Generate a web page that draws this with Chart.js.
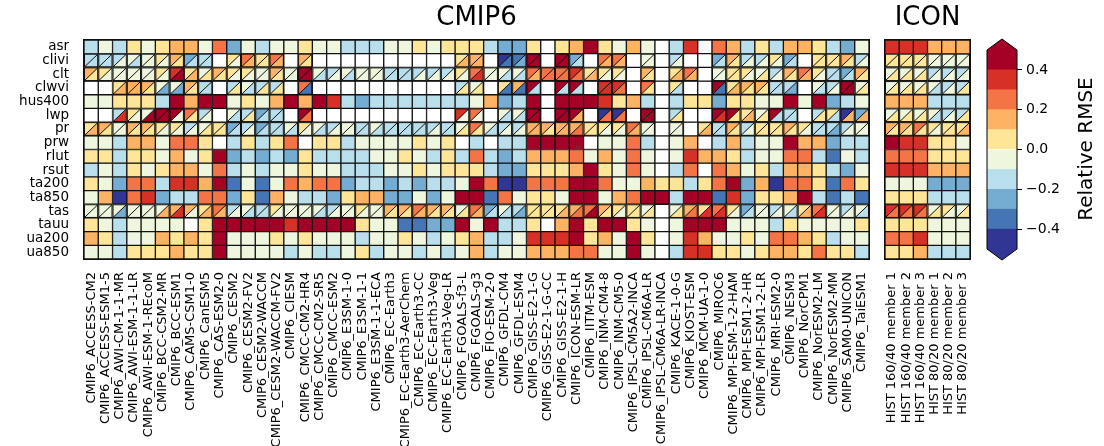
<!DOCTYPE html>
<html>
<head>
<meta charset="utf-8">
<script src="https://cdn.jsdelivr.net/npm/chart.js@4.4.1/dist/chart.umd.min.js"></script>
<style>
  html, body { margin: 0; padding: 0; background: #fff; }
  #wrap { position: relative; width: 1104px; height: 446px; overflow: hidden; }
  canvas { position: absolute; top: 0; }
</style>
</head>
<body>
<div id="wrap">
  <canvas id="cmip" width="877" height="446" style="left:0px"></canvas>
  <canvas id="icon" width="103" height="446" style="left:877px"></canvas>
  <canvas id="cbar" width="124" height="446" style="left:980px"></canvas>
</div>
<script>
// ---- labels ----
const rowNames = ["asr", "clivi", "clt", "clwvi", "hus400", "lwp", "pr", "prw",
  "rlut", "rsut", "ta200", "ta850", "tas", "tauu", "ua200", "ua850"];

const cmipModels = [
  "CMIP6_ACCESS-CM2", "CMIP6_ACCESS-ESM1-5", "CMIP6_AWI-CM-1-1-MR", "CMIP6_AWI-ESM-1-1-LR",
  "CMIP6_AWI-ESM-1-REcoM", "CMIP6_BCC-CSM2-MR", "CMIP6_BCC-ESM1", "CMIP6_CAMS-CSM1-0",
  "CMIP6_CanESM5", "CMIP6_CAS-ESM2-0", "CMIP6_CESM2", "CMIP6_CESM2-FV2", "CMIP6_CESM2-WACCM",
  "CMIP6_CESM2-WACCM-FV2", "CMIP6_CIESM", "CMIP6_CMCC-CM2-HR4", "CMIP6_CMCC-CM2-SR5",
  "CMIP6_CMCC-ESM2", "CMIP6_E3SM-1-0", "CMIP6_E3SM-1-1", "CMIP6_E3SM-1-1-ECA", "CMIP6_EC-Earth3",
  "CMIP6_EC-Earth3-AerChem", "CMIP6_EC-Earth3-CC", "CMIP6_EC-Earth3-Veg", "CMIP6_EC-Earth3-Veg-LR",
  "CMIP6_FGOALS-f3-L", "CMIP6_FGOALS-g3", "CMIP6_FIO-ESM-2-0", "CMIP6_GFDL-CM4", "CMIP6_GFDL-ESM4",
  "CMIP6_GISS-E2-1-G", "CMIP6_GISS-E2-1-G-CC", "CMIP6_GISS-E2-1-H", "CMIP6_ICON-ESM-LR",
  "CMIP6_IITM-ESM", "CMIP6_INM-CM4-8", "CMIP6_INM-CM5-0", "CMIP6_IPSL-CM5A2-INCA",
  "CMIP6_IPSL-CM6A-LR", "CMIP6_IPSL-CM6A-LR-INCA", "CMIP6_KACE-1-0-G", "CMIP6_KIOST-ESM",
  "CMIP6_MCM-UA-1-0", "CMIP6_MIROC6", "CMIP6_MPI-ESM-1-2-HAM", "CMIP6_MPI-ESM1-2-HR",
  "CMIP6_MPI-ESM1-2-LR", "CMIP6_MRI-ESM2-0", "CMIP6_NESM3", "CMIP6_NorCPM1", "CMIP6_NorESM2-LM",
  "CMIP6_NorESM2-MM", "CMIP6_SAM0-UNICON", "CMIP6_TaiESM1"];

const iconRuns = ["HIST 160/40 member 1", "HIST 160/40 member 2", "HIST 160/40 member 3",
  "HIST 80/20 member 1", "HIST 80/20 member 2", "HIST 80/20 member 3"];

// ---- CMIP6 relative RMSE (null = no data); *Alt = second reference (lower-right triangle) ----
const asr = [-.15,-.05,-.15,.05,-.05,.05,.15,.15,-.05,.25, -.25,-.05,-.15,-.05,-.05,.05,-.05,-.05,-.15,-.15,-.15,-.05,-.05,.05,-.05, .05,.05,.05,-.15,-.25,-.25,.05,null,.05,.15,.45,.05,-.05,.15,-.05,null, -.15,.35,null,.25,.15,-.15,.05,-.15,.15,.15,.05,-.15,-.25,-.05];
const clivi = [-.15,-.15,-.15,-.05,-.05,.05,.15,-.25,-.15,null,.05,.25,.05,.25, null,.15,null,null,null,null,null,null,null,null,null, null,.05,.15,null,-.45,-.35,.45,null,.45,-.25,null,.25,.25,null,-.05,null, -.15,null,null,-.25,.15,-.15,-.15,.05,-.25,null,.05,.05,.15,-.15];
const cliviAlt = [-.15,-.15,-.05,-.15,-.05,-.05,.05,-.15,-.15,null,-.05,.15,.05,.15, null,.05,null,null,null,null,null,null,null,null,null, null,.15,.15,null,-.35,-.25,.45,null,.45,-.15,null,.15,.15,null,-.05,null, -.05,null,null,-.15,.05,-.05,-.05,-.05,-.15,null,.05,.05,.05,-.05];
const clt = [.15,.05,-.05,-.05,-.05,.05,.35,.05,-.05,.15,.05,.05,-.05,.15,-.05,.45,-.05,-.15,-.05,-.05,-.05,-.15,-.15,-.15,-.15, -.15,.05,.25,-.05,-.05,-.05,.25,.25,.25,.35,.05,.05,.05,null,.15,null, .05,.25,null,-.05,.05,.05,-.05,-.15,.15,.25,.05,-.15,-.25,.15];
const cltAlt = [.05,-.05,-.05,-.05,-.05,-.05,.45,.15,.05,.05,-.05,-.05,-.05,.05,-.05,.45,-.15,-.05,-.15,-.05,-.05,-.15,-.15,-.05,-.05, -.05,-.05,.35,-.05,-.15,-.15,.15,.25,.25,.25,.15,-.05,-.05,null,.05,null, .15,.15,null,-.05,.05,-.05,.05,-.05,.05,.15,-.05,-.15,-.15,.05];
const clwvi = [null,null,.05,.15,.15,-.05,-.05,.15,-.15,null,-.15,-.05,-.15,-.15,null,.25, null,null,null,null,null,null,null,null,null, null,-.15,-.05,null,.05,.15,.45,null,.45,.45,null,.35,.35,null,.25,null, .05,null,null,.45,.05,.15,.15,-.15,-.15,null,-.05,-.15,.45,-.05];
const clwviAlt = [null,null,.15,.15,.05,-.25,-.25,.05,-.15,null,.05,-.15,.05,.05,null,-.35, null,null,null,null,null,null,null,null,null, null,.05,.05,null,-.35,-.35,-.15,null,-.15,-.15,null,.35,.25,null,.05,null, -.15,null,null,-.35,.15,.05,.05,-.15,-.25,null,-.15,-.05,.45,.05];
const hus400 = [-.05,-.05,.05,.05,.05,-.15,.45,.15,.45,.45, -.05,.05,-.05,.15,.45,.15,.45,.35,-.15,-.25,-.15,-.15,-.15,-.15,-.15, -.15,-.15,-.05,.15,-.25,-.15,.45,null,.45,.45,.45,.35,.05,.15,-.15,null, -.15,.05,.05,-.25,.05,.05,-.05,-.05,.45,-.05,.45,-.25,-.15,-.05];
const lwp = [null,null,-.15,.05,-.05,.45,.45,.25,-.15,null,-.05,-.15,-.25,-.15,null,.45, null,null,null,null,null,null,null,null,null, null,.35,.25,null,-.05,-.05,.45,null,.45,.45,null,-.45,-.45,null,.45,null, -.15,null,null,.45,.45,.05,-.05,.45,-.15,null,-.15,.05,-.45,-.25];
const lwpAlt = [null,null,.35,-.05,.45,.45,-.05,.05,-.05,null,-.15,.05,-.15,-.15,null,.25, null,null,null,null,null,null,null,null,null, null,-.05,-.05,null,-.15,-.15,.45,null,.45,.15,null,.25,.25,null,.45,null, .05,null,null,.35,.05,.15,.05,-.15,-.15,null,.05,-.15,.15,.15];
const pr = [.05,.15,-.05,.15,.15,.05,.05,-.15,-.05,.05,-.25,-.15,-.25,-.15,-.05,.05,-.05,-.15,-.05,-.15,-.05,-.15,-.15,-.15,-.15, -.15,-.05,.25,-.05,-.15,-.15,.15,.15,.15,.15,.05,.05,.05,.25,-.05,null, -.05,null,.05,-.15,.15,-.15,.05,.05,.15,.05,-.15,-.15,-.15,-.05];
const prAlt = [.15,.05,-.05,.05,.05,-.05,-.05,-.05,.05,.05,-.15,-.05,-.15,-.15,-.15,-.05,-.15,-.05,-.05,-.15,-.15,-.15,-.15,-.15,-.05, -.15,.05,.05,-.15,-.05,-.05,.15,.05,.15,.25,.05,-.05,-.05,.15,-.05,null, -.05,null,.15,-.15,.05,-.05,.05,.05,.05,-.05,-.15,-.25,-.05,-.05];
const prw = [-.05,-.05,-.15,.15,.15,-.05,.25,.25,.05,null, -.15,.05,-.15,.05,.25,null,.05,.05,-.15,-.05,-.05,-.05,-.05,.05,-.05, .05,null,-.15,null,-.15,-.15,.45,.45,.45,.45,null,-.05,-.05,.25,-.15,null, -.05,.15,null,-.15,.15,-.15,-.05,-.05,.45,.15,.15,-.25,-.15,-.15];
const rlut = [.05,.05,-.15,.05,.05,-.05,.15,-.05,.05,.45, -.25,-.15,-.25,-.15,-.25,.05,-.15,-.15,-.15,-.15,-.05,-.05,.05,-.05,-.15, .05,-.15,.25,-.15,-.25,-.15,.15,.15,.15,.25,-.05,.15,-.05,.25,-.05,null, -.05,.35,.15,.15,.05,-.15,-.05,-.05,.25,.25,-.15,-.35,-.05,-.15];
const rsut = [-.15,-.05,-.15,.05,-.05,.05,.15,.15,-.05,.25, -.15,-.05,-.15,-.05,-.05,.05,-.05,-.05,-.15,-.15,-.15,-.05,-.05,.05,-.05, .05,.05,.05,-.15,-.25,-.25,.05,.05,.05,.15,.45,.05,-.05,.25,-.05,null, -.15,.25,null,.25,.15,-.05,.05,-.15,.15,.15,.05,-.15,-.25,-.05];
const ta200 = [.05,-.05,-.25,.25,.25,-.15,.35,.35,.15,.45, -.35,-.05,-.35,-.05,.25,.15,.25,.25,-.25,-.15,-.15,-.25,-.15,-.25,-.15, -.15,-.05,.45,.25,-.45,-.45,.25,.25,.25,.45,.45,.25,-.05,-.05,.15,.05, .05,-.15,.05,.25,.45,-.25,.15,-.45,.25,.25,.05,-.35,.25,.05];
const ta850 = [-.05,.15,-.45,.25,.35,-.25,-.15,-.15,.25,.25, -.25,.05,-.35,.15,-.05,-.15,-.15,-.25,.05,.15,.15,-.25,-.25,-.05,-.25, -.05,.45,.45,-.35,.25,-.05,.05,.05,-.05,.45,.45,-.05,.15,.25,.45,.45, -.15,.45,.45,-.35,.35,-.25,.05,.05,.15,.45,-.15,-.35,-.15,-.35];
const tas = [-.05,-.05,-.05,-.05,-.05,-.05,.15,.15,.05,.25,-.15,-.05,-.15,.05,-.05,-.05,-.05,-.15,-.05,.05,-.05,.15,.15,.25,.15,.15,-.05, .25,-.25,-.05,-.15,.05,.05,.05,.15,.25,.15,.05,.05,-.05,null, -.05,.15,.05,.25,.05,-.25,-.05,-.15,-.05,.05,.25,-.05,-.15,-.05];
const tasAlt = [-.05,-.05,-.25,-.05,-.05,.15,.35,-.05,.15,.15,-.05,-.15,-.15,-.05,-.05,-.05,-.15,-.05,-.05,-.05,-.05,.05,.05,.15,.05,.05,.05, .15,-.15,-.15,-.25,.05,.05,.15,.25,.45,.05,-.05,.05,.05,null, .05,.25,.35,.35,-.05,-.15,-.05,-.05,-.15,.15,.35,-.05,-.05,-.15];
const tauu = [.05,-.05,-.15,-.05,-.05,-.05,-.05,null,.05,.45, .45,.45,.45,.45,.35,.45,.45,.45,.45,.05,-.05,-.05,-.35,-.35,-.25, -.25,.45,-.05,.45,-.15,-.15,.05,null,.15,.45,.05,.45,.45,.05,-.05,null, -.05,.45,.45,.45,-.05,-.05,-.05,-.15,.05,-.05,-.05,-.05,-.05,.05];
const ua200 = [.15,.05,-.15,-.05,-.05,.15,.05,.15,.05,.45, -.05,-.05,-.05,.05,-.05,.05,-.05,-.05,-.05,-.15,-.05,-.05,.05,-.05,-.15, -.05,.05,.15,-.15,-.15,-.05,.35,.35,.35,.45,.05,.15,-.05,.45,.05,null, -.05,.35,.15,-.05,-.05,.05,-.05,.25,.25,.15,.05,-.15,-.05,-.05];
const ua850 = [-.05,-.05,-.15,.05,.05,.05,.15,.05,.05,.45, -.05,-.05,-.05,-.05,-.15,-.05,-.15,-.15,-.05,.05,-.15,-.05,-.05,-.15,-.05, -.15,-.05,.15,-.15,-.05,-.05,.15,.15,.15,.25,.25,-.05,-.05,.45,-.05,null, -.15,.35,.35,.05,.05,-.05,.05,.15,.15,.05,.25,.05,.05,-.15];

// ---- ICON relative RMSE ----
const iconAsr = [.35, .35, .35, .15, .15, .15];
const iconClivi = [.05, .05, .05, -.05, -.05, -.05];
const iconCliviAlt = [.05, .05, .05, -.05, -.05, -.05];
const iconClt = [-.05, -.05, -.05, -.15, -.15, -.15];
const iconCltAlt = [.05, .05, .05, -.05, -.05, -.05];
const iconClwvi = [-.05, -.05, -.05, -.05, -.15, -.15];
const iconClwviAlt = [.05, .05, .05, -.15, -.05, .05];
const iconHus400 = [.15, .15, .15, -.15, -.15, -.15];
const iconLwp = [-.05, -.05, -.05, -.05, -.15, -.15];
const iconLwpAlt = [.05, .05, .05, -.15, -.05, .05];
const iconPr = [.15, .15, .25, .05, .05, .05];
const iconPrAlt = [.05, .05, .05, -.05, .05, .15];
const iconPrw = [.45, .35, .35, .05, .05, -.05];
const iconRlut = [.25, .25, .25, .05, .05, .05];
const iconRsut = [.35, .35, .35, .15, .15, .15];
const iconTa200 = [-.05, -.05, -.05, -.25, -.25, -.25];
const iconTa850 = [.05, .05, .05, -.15, -.15, -.15];
const iconTas = [.35, .35, .35, -.05, .05, -.05];
const iconTasAlt = [.25, .25, .25, .05, -.05, .05];
const iconTauu = [.05, .05, .05, -.05, -.05, -.05];
const iconUa200 = [.25, .25, .35, -.05, -.05, -.05];
const iconUa850 = [.05, .05, .15, -.15, -.15, -.15];

// ---- colour scale ----
const cbEdges = [-0.5, -0.4, -0.3, -0.2, -0.1, 0.0, 0.1, 0.2, 0.3, 0.4, 0.5];
const cbTicks = [-0.4, -0.2, 0.0, 0.2, 0.4];
const binColors = ["#313695", "#4575b4", "#74add1", "#b9dfed", "#eef7dd",
  "#fee597", "#fdb264", "#f57446", "#d73027", "#a50026"];

const cmipRows = [asr, clivi, clt, clwvi, hus400, lwp, pr, prw, rlut, rsut, ta200, ta850, tas, tauu, ua200, ua850];
const cmipAlts = [null, cliviAlt, cltAlt, clwviAlt, null, lwpAlt, prAlt, null, null, null, null, null, tasAlt, null, null, null];
const iconRows = [iconAsr, iconClivi, iconClt, iconClwvi, iconHus400, iconLwp, iconPr, iconPrw, iconRlut,
  iconRsut, iconTa200, iconTa850, iconTas, iconTauu, iconUa200, iconUa850];
const iconAlts = [null, iconCliviAlt, iconCltAlt, iconClwviAlt, null, iconLwpAlt, iconPrAlt, null, null,
  null, null, null, iconTasAlt, null, null, null];

Chart.defaults.font.family = "'DejaVu Sans', sans-serif";
Chart.defaults.color = "#000";

function colorFor(v) {
  if (v === null || v === undefined) return "#ffffff";
  let k = Math.floor((v + 0.5) * 10 + 1e-9);
  k = Math.max(0, Math.min(binColors.length - 1, k));
  return binColors[k];
}

const EDGE = "#111";

// upper-left triangle = first reference, lower-right (the bar) = second one
function splitPlugin(rows, alts) {
  return {
    id: "splitCells",
    afterDatasetsDraw(chart) {
      const ctx = chart.ctx;
      ctx.save();
      ctx.lineWidth = 1;
      ctx.strokeStyle = EDGE;
      rows.forEach((vals, r) => {
        if (!alts[r]) return;
        chart.getDatasetMeta(r).data.forEach((bar, j) => {
          const upper = vals[j], lower = alts[r][j];
          if (upper == null && lower == null) return;
          const p = bar.getProps(["x", "y", "base", "width"], true);
          const l = p.x - p.width / 2, rt = p.x + p.width / 2;
          const t = Math.min(p.y, p.base), b = Math.max(p.y, p.base);
          ctx.fillStyle = colorFor(upper);
          ctx.beginPath();
          ctx.moveTo(l, t); ctx.lineTo(rt, t); ctx.lineTo(l, b);
          ctx.closePath();
          ctx.fill();
          ctx.beginPath();
          ctx.moveTo(l, b); ctx.lineTo(rt, t);
          ctx.stroke();
          ctx.strokeRect(l + 0.5, t + 0.5, rt - l - 1, b - t - 1);
        });
      });
      ctx.restore();
    }
  };
}

const framePlugin = {
  id: "frame",
  afterDatasetsDraw(chart) {
    const a = chart.chartArea, ctx = chart.ctx;
    ctx.save();
    ctx.lineWidth = 1;
    ctx.strokeStyle = EDGE;
    ctx.strokeRect(a.left - 0.5, a.top - 0.5, a.right - a.left + 1, a.bottom - a.top + 1);
    ctx.restore();
  }
};

function heatmapConfig(labels, rows, alts, title, withRowLabels, padLeft, padRight) {
  const datasets = rows.map((vals, r) => ({
    label: rowNames[r],
    data: labels.map(() => [r, r + 1]),
    backgroundColor: (alts[r] || vals).map(colorFor),
    borderColor: EDGE,
    borderWidth: 1,
    borderSkipped: false,
    grouped: false,
    barPercentage: 1,
    categoryPercentage: 1
  }));
  return {
    type: "bar",
    data: { labels, datasets },
    options: {
      responsive: false,
      animation: false,
      layout: { padding: { left: padLeft, right: padRight, top: 0, bottom: 0 } },
      plugins: {
        legend: { display: false },
        tooltip: { enabled: false },
        title: {
          display: true, text: title, fullSize: false, color: "#000",
          font: { size: 26, weight: "normal" }, padding: { top: 3, bottom: 5.8 }
        }
      },
      scales: {
        x: {
          type: "category",
          grid: { display: false, drawTicks: false },
          border: { display: false },
          ticks: { autoSkip: false, maxRotation: 90, minRotation: 90, padding: 13, font: { size: 13 } },
          afterFit: (s) => { s.height = 187; s.paddingLeft = 0; s.paddingRight = 0; }
        },
        y: {
          type: "linear", min: 0, max: 16, reverse: true,
          display: withRowLabels,
          grid: { display: false, drawTicks: false },
          border: { display: false },
          afterBuildTicks: (s) => { s.ticks = rowNames.map((n, i) => ({ value: i + 0.5 })); },
          ticks: { autoSkip: false, padding: 15, font: { size: 13.5 }, callback: (v, i) => rowNames[i] },
          afterFit: (s) => { s.width = withRowLabels ? 84 : 0; s.paddingTop = 0; s.paddingBottom = 0; }
        }
      }
    },
    plugins: [splitPlugin(rows, alts), framePlugin]
  };
}

new Chart(document.getElementById("cmip"),
  heatmapConfig(cmipModels, cmipRows, cmipAlts, "CMIP6", true, 0, 8));
new Chart(document.getElementById("icon"),
  heatmapConfig(iconRuns, iconRows, iconAlts, "ICON", false, 8, 10));

// ---- colour bar ----
const colorbarShape = {
  id: "colorbarShape",
  afterDatasetsDraw(chart) {
    const { left, right, top, bottom } = chart.chartArea;
    const ctx = chart.ctx, mid = (left + right) / 2, ext = 11;
    ctx.save();
    ctx.fillStyle = binColors[binColors.length - 1];
    ctx.beginPath(); ctx.moveTo(left, top); ctx.lineTo(mid, top - ext); ctx.lineTo(right, top); ctx.closePath(); ctx.fill();
    ctx.fillStyle = binColors[0];
    ctx.beginPath(); ctx.moveTo(left, bottom); ctx.lineTo(mid, bottom + ext); ctx.lineTo(right, bottom); ctx.closePath(); ctx.fill();
    ctx.strokeStyle = "#000";
    ctx.lineWidth = 1;
    ctx.beginPath();
    ctx.moveTo(mid, top - ext); ctx.lineTo(right, top); ctx.lineTo(right, bottom);
    ctx.lineTo(mid, bottom + ext); ctx.lineTo(left, bottom); ctx.lineTo(left, top);
    ctx.closePath();
    ctx.stroke();
    // axis label, reading bottom to top
    ctx.translate(107, 149);
    ctx.rotate(-Math.PI / 2);
    ctx.fillStyle = "#000";
    ctx.font = "20px 'DejaVu Sans'";
    ctx.textAlign = "center";
    ctx.textBaseline = "middle";
    ctx.fillText("Relative RMSE", 0, 0);
    ctx.restore();
  }
};

new Chart(document.getElementById("cbar"), {
  type: "bar",
  data: {
    labels: [""],
    datasets: binColors.map((c, i) => ({
      data: [[cbEdges[i], cbEdges[i + 1]]],
      backgroundColor: c,
      borderWidth: 0,
      grouped: false,
      barPercentage: 1,
      categoryPercentage: 1
    }))
  },
  options: {
    responsive: false,
    animation: false,
    layout: { padding: { left: 7, right: 0, top: 50, bottom: 197 } },
    plugins: { legend: { display: false }, tooltip: { enabled: false } },
    scales: {
      x: { display: false },
      y: {
        type: "linear", position: "right", min: -0.5, max: 0.5,
        grid: { display: true, drawOnChartArea: false, drawTicks: true, tickLength: 5, color: "#000" },
        border: { display: false },
        afterBuildTicks: (s) => { s.ticks = cbTicks.map((v) => ({ value: v })); },
        ticks: {
          padding: 4, font: { size: 14 }, color: "#000",
          callback: (v) => (v < -1e-9 ? "\u2212" : "") + Math.abs(v).toFixed(1)
        },
        afterFit: (s) => { s.width = 87; }
      }
    }
  },
  plugins: [colorbarShape]
});
</script>
</body>
</html>
